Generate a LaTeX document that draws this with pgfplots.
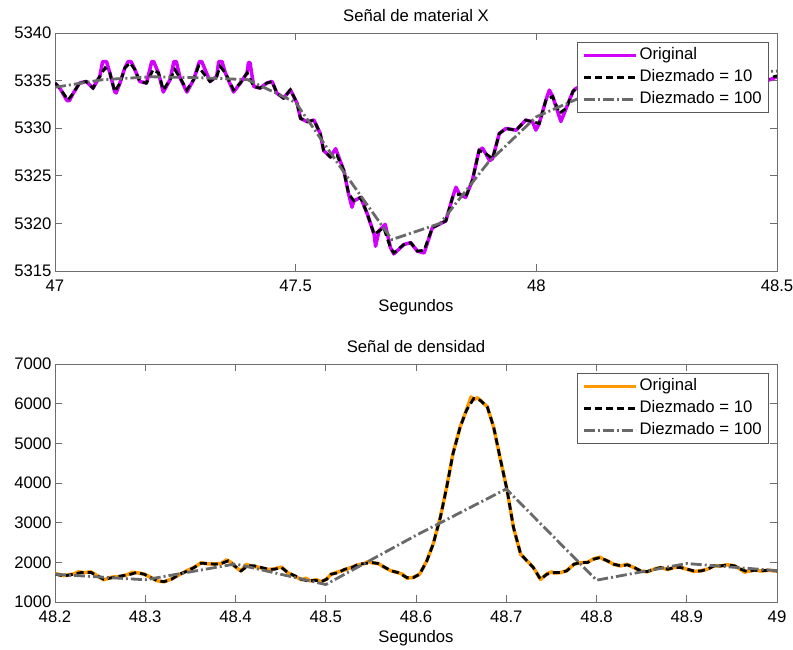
\documentclass[border=0pt]{standalone}
\usepackage{fontspec}
\setmainfont{Liberation Sans}
\usepackage{pgfplots}
\pgfplotsset{compat=1.18}
\definecolor{mag}{RGB}{210,0,255}
\definecolor{org}{RGB}{255,153,0}
\definecolor{dg}{RGB}{105,105,105}
\definecolor{axc}{RGB}{110,110,110}
\newcommand{\ff}{\fontsize{16.7bp}{19bp}\selectfont}
\pgfplotsset{
 myax/.style={
  width=722bp, height=238bp, scale only axis,
  axis line style={axc, line width=0.9bp},
  every tick/.style={axc, line width=0.9bp},
  major tick length=7bp,
  tick align=inside,
  xtick pos=both, ytick pos=both,
  font=\ff,
  /pgf/number format/assume math mode=true,
  /pgf/number format/1000 sep={},
  xticklabel style={yshift=-5bp},
  xlabel={Segundos},
  xlabel style={at={(axis description cs:0.5,0)}, anchor=base, yshift=-40.5bp},
  title style={at={(axis description cs:0.5,1)}, anchor=base, yshift=6bp},
  legend style={at={(0.989,0.962)}, anchor=north east, draw=black!65, line width=0.8bp,
     fill=white, font=\ff, inner xsep=5bp, inner ysep=3bp, row sep=2bp,
     nodes={inner sep=2bp, text height=12bp, text depth=4bp}},
  legend cell align=left,
  legend image code/.code={\draw[##1] (0bp,0bp) -- (52bp,0bp);},
 },
 orig/.style={line width=3.5bp, line join=round},
 d10/.style={black, line width=2.8bp, dash pattern=on 7bp off 4bp},
 d100/.style={dg, line width=2.8bp, dash pattern=on 11bp off 3bp on 2bp off 3bp},
}
\begin{document}
\begin{tikzpicture}
\useasboundingbox (0,0) rectangle (793bp,-650bp);
\begin{axis}[myax, at={(55bp,-33bp)}, anchor=north west,
  title={Señal de material X},
  xmin=47, xmax=48.5, ymin=5315, ymax=5340,
  xtick={47,47.5,48,48.5}, xticklabels={47,47.5,48,48.5},
  ytick={5315,5320,5325,5330,5335,5340}]
\addplot[orig, mag] coordinates {
(47.000,5334.74) (47.010,5334.21) (47.025,5332.9) (47.030,5332.9) (47.038,5333.68)
(47.051,5334.74) (47.065,5334.91) (47.079,5334.21) (47.093,5335.44) (47.099,5337.0)
(47.107,5337.0) (47.114,5335.80) (47.124,5333.85) (47.127,5333.7) (47.135,5334.74)
(47.145,5336.33) (47.152,5337.0) (47.158,5337.0) (47.166,5336.15) (47.176,5334.91)
(47.190,5334.74) (47.201,5337.0) (47.205,5337.0) (47.215,5335.80) (47.225,5333.8)
(47.239,5335.09) (47.247,5337.0) (47.252,5337.0) (47.260,5335.27) (47.274,5333.8)
(47.288,5335.09) (47.300,5337.0) (47.305,5337.0) (47.322,5334.91) (47.336,5335.44)
(47.340,5337.0) (47.347,5337.0) (47.354,5335.80) (47.371,5333.8) (47.385,5334.74)
(47.399,5335.80) (47.402,5336.9) (47.405,5336.9) (47.413,5334.38) (47.426,5334.21)
(47.440,5334.74) (47.451,5334.91) (47.461,5333.68) (47.475,5333.15) (47.489,5334.03)
(47.503,5332.62) (47.510,5331.03) (47.524,5330.68) (47.538,5330.85) (47.551,5329.44)
(47.558,5327.67) (47.572,5326.97) (47.583,5327.85) (47.590,5326.9) (47.600,5325.56)
(47.610,5323.09) (47.617,5321.7) (47.621,5322.38) (47.635,5322.73) (47.649,5320.97)
(47.663,5318.85) (47.666,5317.6) (47.673,5319.20) (47.686,5319.9) (47.697,5317.44)
(47.704,5316.8) (47.725,5317.79) (47.739,5317.97) (47.753,5317.08) (47.767,5316.9)
(47.784,5319.55) (47.798,5319.91) (47.812,5320.26) (47.826,5322.73) (47.833,5323.8)
(47.840,5323.09) (47.853,5322.73) (47.867,5324.50) (47.881,5327.67) (47.888,5327.9)
(47.895,5327.32) (47.903,5326.6) (47.909,5326.79) (47.923,5329.44) (47.937,5329.97)
(47.958,5329.79) (47.978,5330.85) (47.992,5330.68) (47.999,5329.8) (48.006,5330.50)
(48.020,5332.97) (48.027,5334.0) (48.034,5333.33) (48.051,5330.7) (48.062,5332.09)
(48.076,5333.85) (48.083,5334.21) (48.10,5334.4) (48.12,5333.8) (48.14,5334.8)
(48.16,5335.5) (48.18,5334.4) (48.20,5335.0) (48.22,5335.8) (48.24,5334.7)
(48.26,5335.2) (48.28,5336.0) (48.30,5335.0) (48.32,5335.4) (48.34,5336.1)
(48.36,5335.1) (48.38,5335.5) (48.40,5336.2) (48.42,5335.2) (48.44,5335.6)
(48.46,5336.0) (48.48,5335.0) (48.50,5335.4)};
\addlegendentry{Original}
\addplot[d10] coordinates {
(47.000,5334.74) (47.010,5334.21) (47.027,5332.97) (47.038,5333.68) (47.051,5334.74)
(47.065,5334.91) (47.079,5334.21) (47.093,5335.44) (47.104,5336.33) (47.114,5335.80)
(47.124,5333.85) (47.135,5334.74) (47.145,5336.33) (47.156,5336.86) (47.166,5336.15)
(47.176,5334.91) (47.190,5334.74) (47.204,5336.15) (47.215,5335.80) (47.225,5334.03)
(47.239,5335.09) (47.249,5336.15) (47.260,5335.27) (47.274,5334.03) (47.288,5335.09)
(47.298,5336.50) (47.308,5335.80) (47.322,5334.91) (47.336,5335.44) (47.343,5336.50)
(47.354,5335.80) (47.371,5334.03) (47.385,5334.74) (47.399,5335.80) (47.413,5334.38)
(47.426,5334.21) (47.440,5334.74) (47.451,5334.91) (47.461,5333.68) (47.475,5333.15)
(47.489,5334.03) (47.503,5332.62) (47.510,5331.03) (47.524,5330.68) (47.538,5330.85)
(47.551,5329.44) (47.558,5327.67) (47.572,5326.97) (47.586,5327.15) (47.600,5325.56)
(47.610,5323.09) (47.621,5322.38) (47.635,5322.73) (47.649,5320.97) (47.663,5318.85)
(47.673,5319.20) (47.683,5319.55) (47.697,5317.44) (47.704,5316.91) (47.725,5317.79)
(47.739,5317.97) (47.753,5317.08) (47.767,5317.2) (47.784,5319.55) (47.798,5319.91)
(47.812,5320.26) (47.826,5322.73) (47.840,5323.09) (47.853,5322.73) (47.867,5324.50)
(47.881,5327.67) (47.895,5327.32) (47.909,5326.79) (47.923,5329.44) (47.937,5329.97)
(47.958,5329.79) (47.978,5330.85) (47.992,5330.68) (48.006,5330.50) (48.020,5332.97)
(48.034,5333.33) (48.048,5331.56) (48.062,5332.09) (48.076,5333.85) (48.083,5334.21)
(48.10,5334.4) (48.12,5334.0) (48.14,5334.8) (48.16,5335.3) (48.18,5334.6)
(48.20,5335.0) (48.22,5335.6) (48.24,5334.9) (48.26,5335.2) (48.28,5335.8)
(48.30,5335.1) (48.32,5335.4) (48.34,5335.9) (48.36,5335.2) (48.38,5335.5)
(48.40,5336.0) (48.42,5335.3) (48.44,5335.6) (48.46,5335.9) (48.48,5335.2) (48.50,5335.5)};
\addlegendentry{Diezmado = 10}
\addplot[d100] coordinates {
(47.0,5334.3) (47.1,5335.1) (47.2,5335.4) (47.3,5335.3) (47.4,5335.1) (47.5,5332.7)
(47.6,5325.4) (47.7,5318.3) (47.8,5320.0) (47.9,5326.4) (48.0,5331.2) (48.1,5333.4)
(48.2,5334.6) (48.3,5335.4) (48.4,5335.8) (48.5,5336.0)};
\addlegendentry{Diezmado = 100}
\end{axis}
\begin{axis}[myax, at={(55bp,-364bp)}, anchor=north west,
  title={Señal de densidad},
  xmin=48.2, xmax=49, ymin=1000, ymax=7000,
  xtick={48.2,48.3,48.4,48.5,48.6,48.7,48.8,48.9,49},
  xticklabels={48.2,48.3,48.4,48.5,48.6,48.7,48.8,48.9,49},
  ytick={1000,2000,3000,4000,5000,6000,7000}]
\addplot[orig, org] coordinates {
(48.200,1720) (48.210,1665) (48.221,1710) (48.226,1760) (48.232,1740) (48.240,1760)
(48.247,1660) (48.254,1560) (48.264,1630) (48.273,1640) (48.280,1690) (48.286,1750)
(48.293,1730) (48.299,1700) (48.306,1620) (48.314,1530) (48.321,1510) (48.329,1580)
(48.338,1690) (48.347,1800) (48.354,1870) (48.362,1990) (48.369,1960) (48.377,1960)
(48.384,1970) (48.390,2060) (48.395,2000) (48.399,1900) (48.406,1780) (48.412,1950)
(48.418,1900) (48.425,1880) (48.433,1830) (48.440,1820) (48.447,1860) (48.451,1880)
(48.458,1740) (48.466,1650) (48.473,1560) (48.478,1600) (48.483,1530) (48.490,1560)
(48.495,1510) (48.501,1580) (48.506,1700) (48.514,1760) (48.521,1810) (48.529,1880)
(48.536,1940) (48.543,1970) (48.547,2020) (48.551,1990) (48.558,1970) (48.566,1860)
(48.573,1780) (48.580,1740) (48.585,1700) (48.590,1600) (48.597,1620) (48.604,1700)
(48.612,2040) (48.619,2460) (48.627,3140) (48.634,3900) (48.641,4750) (48.649,5420)
(48.656,5850) (48.661,6170) (48.664,6100) (48.668,6150) (48.671,6090) (48.679,5920)
(48.686,5410) (48.693,4650) (48.701,3810) (48.708,2880) (48.716,2200) (48.723,2040)
(48.730,1870) (48.738,1570) (48.745,1710) (48.750,1760) (48.753,1730) (48.760,1740)
(48.767,1790) (48.775,1950) (48.782,1990) (48.790,2000) (48.797,2090) (48.804,2130)
(48.808,2070) (48.812,2040) (48.819,1950) (48.827,1910) (48.834,1950) (48.842,1860)
(48.849,1780) (48.856,1760) (48.864,1830) (48.871,1870) (48.879,1820) (48.886,1870)
(48.893,1880) (48.901,1820) (48.908,1770) (48.916,1790) (48.923,1830) (48.930,1910)
(48.938,1910) (48.945,1940) (48.953,1910) (48.960,1820) (48.964,1750) (48.967,1770)
(48.975,1810) (48.982,1780) (48.990,1800) (49.000,1780)};
\addlegendentry{Original}
\addplot[d10] coordinates {
(48.200,1700) (48.210,1657) (48.221,1700) (48.229,1742) (48.240,1742) (48.247,1657)
(48.254,1573) (48.264,1615) (48.273,1657) (48.284,1700) (48.290,1742) (48.299,1700)
(48.306,1615) (48.314,1531) (48.321,1514) (48.329,1573) (48.338,1700) (48.347,1784)
(48.354,1868) (48.362,1978) (48.369,1970) (48.377,1953) (48.384,1970) (48.392,2037)
(48.399,1911) (48.406,1784) (48.414,1911) (48.421,1911) (48.429,1868) (48.436,1826)
(48.443,1826) (48.451,1868) (48.458,1742) (48.466,1657) (48.473,1573) (48.480,1531)
(48.488,1548) (48.495,1514) (48.501,1573) (48.506,1700) (48.514,1742) (48.521,1826)
(48.529,1868) (48.536,1953) (48.543,1970) (48.551,1995) (48.558,1970) (48.566,1868)
(48.573,1784) (48.580,1742) (48.590,1615) (48.597,1615) (48.604,1700) (48.612,2037)
(48.619,2459) (48.627,3135) (48.634,3894) (48.641,4738) (48.649,5413) (48.656,5835)
(48.664,6131) (48.671,6088) (48.679,5920) (48.686,5413) (48.693,4654) (48.701,3810)
(48.708,2881) (48.716,2206) (48.723,2037) (48.730,1868) (48.738,1573) (48.745,1700)
(48.753,1742) (48.760,1742) (48.767,1784) (48.775,1953) (48.782,1995) (48.790,1995)
(48.797,2080) (48.804,2122) (48.812,2037) (48.819,1953) (48.827,1911) (48.834,1936)
(48.842,1868) (48.849,1784) (48.856,1767) (48.864,1826) (48.871,1868) (48.879,1826)
(48.886,1868) (48.893,1868) (48.901,1826) (48.908,1784) (48.916,1784) (48.923,1826)
(48.930,1911) (48.938,1911) (48.945,1936) (48.953,1911) (48.960,1826) (48.967,1767)
(48.975,1801) (48.982,1784) (48.990,1801) (49.000,1784)};
\addlegendentry{Diezmado = 10}
\addplot[d100] coordinates {
(48.2,1700) (48.3,1560) (48.4,1960) (48.5,1440) (48.6,2680) (48.7,3850)
(48.8,1550) (48.9,1970) (49.0,1790)};
\addlegendentry{Diezmado = 100}
\end{axis}
\end{tikzpicture}
\end{document}
